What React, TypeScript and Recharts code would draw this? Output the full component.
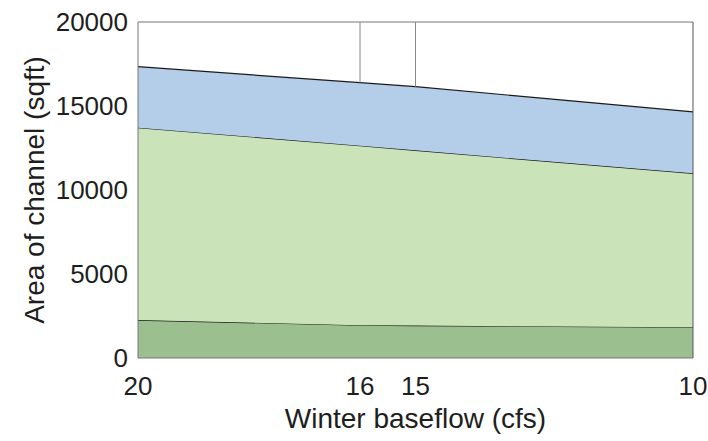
import React from 'react';
import { AreaChart, Area, XAxis, YAxis, ReferenceLine } from 'recharts';

// winter baseflow (cfs), read left to right on the reversed axis
const flows = [20, 16, 15, 10];
const flowTicks = [20, 16, 15, 10];
const areaTicks = [0, 5000, 10000, 15000, 20000];

// stacked bands of channel area (sqft)
const lowerBand = [2260, 1950, 1930, 1830];
const middleBand = [11450, 10690, 10430, 9160];
const upperBand = [3630, 3750, 3790, 3660];

// vertical markers drawn from the top of the stack to the top of the plot
const markerFlows = [16, 15];

const data = flows.map((flow, i) => ({
  flow,
  lower: lowerBand[i],
  middle: middleBand[i],
  upper: upperBand[i],
}));

const stackTop = (flow: number) => {
  const i = flows.indexOf(flow);
  return lowerBand[i] + middleBand[i] + upperBand[i];
};

const tickStyle = { fill: '#1e1e1e', fontSize: 26 };

export default function App() {
  return (
    <div style={{ position: 'absolute', left: 0, top: 0, fontFamily: '"Liberation Sans", Arial, sans-serif', background: '#fff' }}>
      <AreaChart width={708} height={441} data={data} margin={{ top: 22, right: 15, left: 0, bottom: 0 }}>
        <XAxis
          type="number"
          dataKey="flow"
          domain={[10, 20]}
          reversed
          ticks={flowTicks}
          interval={0}
          tick={tickStyle}
          tickLine={false}
          tickSize={0}
          tickMargin={19}
          height={83}
          axisLine={{ stroke: '#777' }}
          label={{ value: 'Winter baseflow (cfs)', position: 'insideBottom', offset: 13, fill: '#1e1e1e', fontSize: 28 }}
        />
        <YAxis
          type="number"
          domain={[0, 20000]}
          ticks={areaTicks}
          interval={0}
          tick={tickStyle}
          tickLine={false}
          tickSize={0}
          tickMargin={10}
          width={138}
          axisLine={{ stroke: '#777' }}
          label={{ value: 'Area of channel (sqft)', angle: -90, position: 'insideLeft', offset: 34, fill: '#1e1e1e', fontSize: 28, style: { textAnchor: 'middle' } }}
        />
        <Area type="linear" dataKey="lower" stackId="a" fill="#9cbf90" fillOpacity={1} stroke="#1a1a1a" strokeWidth={1.2} isAnimationActive={false} />
        <Area type="linear" dataKey="middle" stackId="a" fill="#cae3b9" fillOpacity={1} stroke="#1a1a1a" strokeWidth={1.2} isAnimationActive={false} />
        <Area type="linear" dataKey="upper" stackId="a" fill="#b4cde8" fillOpacity={1} stroke="#1a1a1a" strokeWidth={1.2} isAnimationActive={false} />
        <ReferenceLine y={20000} stroke="#777" />
        <ReferenceLine x={10} stroke="#555" />
        {markerFlows.map((f) => (
          <ReferenceLine key={f} segment={[{ x: f, y: stackTop(f) }, { x: f, y: 20000 }]} stroke="#888" />
        ))}
      </AreaChart>
    </div>
  );
}
